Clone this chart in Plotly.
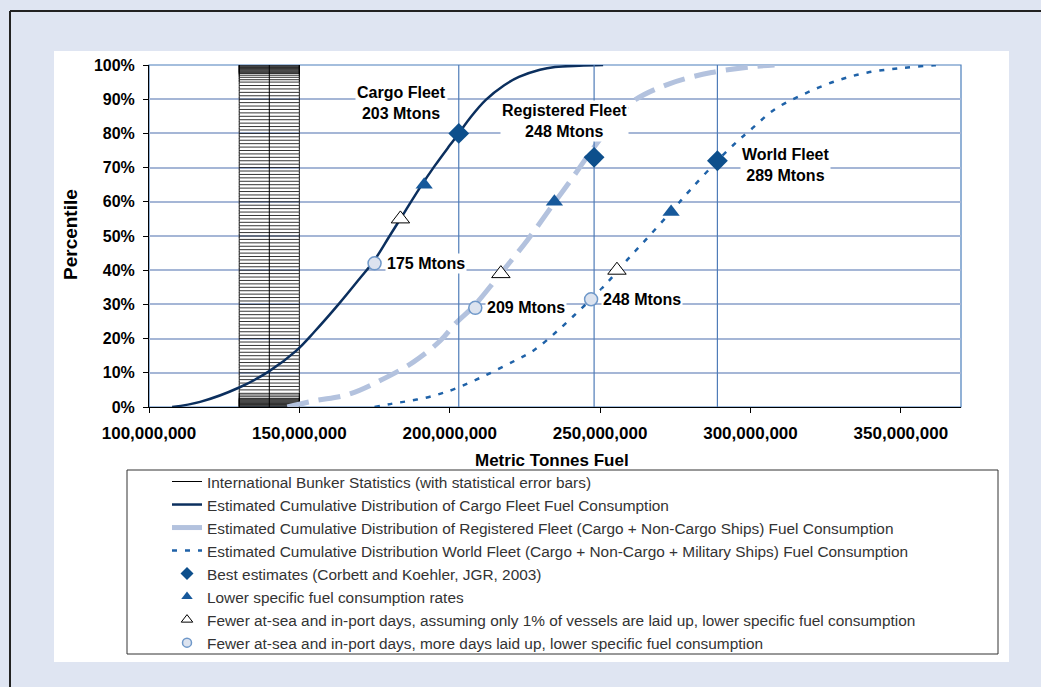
import plotly.graph_objects as go

# fuel totals in million tonnes, percentiles in %
CARGO_MT = [107.7, 117, 130, 140, 149, 155, 163, 170, 175, 180, 185, 190, 195, 200, 203, 207, 212, 218, 223, 230, 235, 243, 251]
CARGO_PCT = [0, 1.5, 5.7, 10.5, 16.5, 22, 30, 37.5, 43, 50, 57, 64, 70.5, 76.5, 80, 84.8, 89.8, 94, 96.5, 98.6, 99.4, 99.8, 100]

REG_MT = [146, 155, 166, 177, 188, 197, 202, 208, 216, 226, 235, 240, 248, 257, 262, 273, 287, 302, 308]
REG_PCT = [0, 1.8, 3.6, 7.8, 13.2, 19.5, 24.5, 29.5, 38, 49, 60, 66, 76, 86, 90, 94.5, 97.8, 99.6, 100]

WORLD_MT = [175, 181, 186, 192, 197, 202, 212, 222, 228, 236, 244, 247, 252, 259, 266, 274, 280, 289, 296, 300, 308, 318, 329, 339, 350, 361, 364]
WORLD_PCT = [0, 1, 1.7, 2.7, 3.9, 5.4, 9.3, 13.7, 16.6, 22.4, 29, 31.5, 36, 43, 49.7, 57.5, 63.5, 72, 78, 81, 87, 91.6, 95.5, 97.8, 99.1, 99.9, 100]

BEST_MT = [203, 248, 289]
BEST_PCT = [80, 73, 72]
LOWER_SFC_MT = [191.5, 234.8, 273.6]
LOWER_SFC_PCT = [65, 60, 57]
FEWER_1PCT_MT = [183.6, 217, 255.6]
FEWER_1PCT_PCT = [55, 39, 40]
LAIDUP_MT = [175, 208.5, 247]
LAIDUP_PCT = [42, 29, 31.5]
LAIDUP_LABELS = ['175 Mtons', '209 Mtons', '248 Mtons']
FLEET_LABELS = ['Cargo Fleet<br>203 Mtons', 'Registered Fleet<br>248 Mtons', 'World Fleet<br>289 Mtons']

# bunker statistics: 140 Mt +/- 10 Mt, one error bar per percentile level
BUNKER_MT = 140
BUNKER_ERR_MT = 10
BUNKER_PCT = [
    0, 0.25, 0.5, 0.75, 1, 1.25, 1.5, 1.75, 2, 2.25, 2.5, 3, 3.5, 4, 5, 6,
    7, 8, 9, 10, 11, 12, 13, 14, 15, 16, 17, 18, 19, 20, 21, 22, 23, 24, 25, 26, 27, 28, 29, 30,
    31, 32, 33, 34, 35, 36, 37, 38, 39, 40, 41, 42, 43, 44, 45, 46, 47, 48, 49, 50, 51, 52, 53,
    54, 55, 56, 57, 58, 59, 60, 61, 62, 63, 64, 65, 66, 67, 68, 69, 70, 71, 72, 73, 74, 75, 76,
    77, 78, 79, 80, 81, 82, 83, 84, 85, 86, 87, 88, 89, 90, 91, 92, 93, 94, 95, 95.7, 96.4,
    97, 97.5, 97.75, 98, 98.25, 98.5, 98.75, 99, 99.25, 99.5, 99.75, 100,
]

NAMES = [
    'International Bunker Statistics (with statistical error bars)',
    'Estimated Cumulative Distribution of Cargo Fleet Fuel Consumption',
    'Estimated Cumulative Distribution of Registered Fleet (Cargo + Non-Cargo Ships) Fuel Consumption',
    'Estimated Cumulative Distribution World Fleet (Cargo + Non-Cargo + Military Ships) Fuel Consumption',
    'Best estimates (Corbett and Koehler, JGR, 2003)',
    'Lower specific fuel consumption rates',
    'Fewer at-sea and in-port days, assuming only 1% of vessels are laid up, lower specific fuel consumption',
    'Fewer at-sea and in-port days, more days laid up, lower specific fuel consumption',
]

W, H = 1041, 687
L, R, T, B = 149, 961, 65, 407  # plot area in pixels


def px(x):
    return (x - L) / (R - L)


def py(y):
    return (B - y) / (B - T)


def t(vals):
    return [v * 1e6 for v in vals]


FONT = 'Arial, Liberation Sans, sans-serif'

# styles: (line, marker) used on the chart; legend swatches get smaller markers
CARGO_LINE = dict(color='#0b2f5e', width=2.5, shape='spline', smoothing=1)
REG_LINE = dict(color='#b3c2de', width=5, dash='22px,10px', shape='spline', smoothing=1)
WORLD_LINE = dict(color='#1f62a8', width=2.5, dash='5px,8px', shape='spline', smoothing=1)
DIAMOND = dict(symbol='diamond', color='#0d4f8c')
TRIANGLE = dict(symbol='triangle-up', color='#17599b')
OPEN_TRI = dict(symbol='triangle-up', color='white', line=dict(color='black', width=1))
CIRCLE = dict(symbol='circle', color='#dce3ef', line=dict(color='#6f98c9', width=1.5))

fig = go.Figure()

fig.add_trace(go.Scatter(
    x=[BUNKER_MT * 1e6] * len(BUNKER_PCT), y=BUNKER_PCT, mode='lines',
    line=dict(color='black', width=1),
    error_x=dict(type='constant', value=BUNKER_ERR_MT * 1e6, color='black', thickness=0.8, width=2),
    hoverinfo='skip'))
fig.add_trace(go.Scatter(x=t(CARGO_MT), y=CARGO_PCT, mode='lines', line=CARGO_LINE))
fig.add_trace(go.Scatter(x=t(REG_MT), y=REG_PCT, mode='lines', line=REG_LINE))
fig.add_trace(go.Scatter(x=t(WORLD_MT), y=WORLD_PCT, mode='lines', line=WORLD_LINE))
fig.add_trace(go.Scatter(
    x=t(BEST_MT), y=BEST_PCT, mode='markers', marker=dict(size=16, **DIAMOND),
    error_y=dict(type='data', array=[100 - p for p in BEST_PCT], arrayminus=BEST_PCT,
                 color='#4f7cb8', thickness=1.2, width=0)))
fig.add_trace(go.Scatter(x=t(LOWER_SFC_MT), y=LOWER_SFC_PCT, mode='markers', marker=dict(size=15, **TRIANGLE)))
fig.add_trace(go.Scatter(x=t(FEWER_1PCT_MT), y=FEWER_1PCT_PCT, mode='markers', marker=dict(size=16, **OPEN_TRI)))
fig.add_trace(go.Scatter(x=t(LAIDUP_MT), y=LAIDUP_PCT, mode='markers', marker=dict(size=13, **CIRCLE)))
fig.update_traces(showlegend=False)

# legend-only swatches
legend_styles = [
    dict(mode='lines', line=dict(color='black', width=1)),
    dict(mode='lines', line=dict(color='#0b2f5e', width=2.5)),
    dict(mode='lines', line=dict(color='#b3c2de', width=5)),
    dict(mode='lines', line=dict(color='#1f62a8', width=2.5, dash='5px,8px')),
    dict(mode='markers', marker=dict(size=10, **DIAMOND)),
    dict(mode='markers', marker=dict(size=10, **TRIANGLE)),
    dict(mode='markers', marker=dict(size=10, **OPEN_TRI)),
    dict(mode='markers', marker=dict(size=9, **CIRCLE)),
]
for i, (name, style) in enumerate(zip(NAMES, legend_styles)):
    fig.add_trace(go.Scatter(x=[None], y=[None], name=name, legendgroup=str(i), showlegend=True, **style))

annotations = []
# fleet labels, offset from the best-estimate diamonds
for (xs, ys), lab, mt, p in zip([(-57, 30), (-30, 36), (68, -4)], FLEET_LABELS, BEST_MT, BEST_PCT):
    annotations.append(dict(x=mt * 1e6, y=p, xref='x', yref='y', text=lab, showarrow=False,
                            xshift=xs, yshift=ys, bgcolor='white', borderpad=1,
                            font=dict(family=FONT, size=16, color='black', weight='bold')))
for lab, mt, p in zip(LAIDUP_LABELS, LAIDUP_MT, LAIDUP_PCT):
    annotations.append(dict(x=mt * 1e6, y=p, xref='x', yref='y', text=lab, showarrow=False,
                            xanchor='left', xshift=10, bgcolor='white', borderpad=1,
                            font=dict(family=FONT, size=16, color='black', weight='bold')))
annotations.append(dict(x=px(70), y=py(235), xref='paper', yref='paper', text='Percentile',
                        textangle=-90, showarrow=False, xanchor='center', yanchor='middle',
                        font=dict(family=FONT, size=19, color='black', weight='bold')))
annotations.append(dict(x=px(552), y=py(460), xref='paper', yref='paper', text='Metric Tonnes Fuel',
                        showarrow=False, xanchor='center', yanchor='middle',
                        font=dict(family=FONT, size=17, color='black', weight='bold')))

shapes = [
    # white chart area on the lavender page
    dict(type='rect', xref='paper', yref='paper', x0=px(54), x1=px(1009), y0=py(662), y1=py(51),
         fillcolor='white', line=dict(width=0), layer='below'),
    # legend frame
    dict(type='rect', xref='paper', yref='paper', x0=px(127), x1=px(998), y0=py(654), y1=py(470),
         fillcolor='white', line=dict(color='#333333', width=1), layer='below'),
    # outer frame (top and left edges)
    dict(type='line', xref='paper', yref='paper', x0=px(10), x1=px(1060), y0=py(11), y1=py(11),
         line=dict(color='#222222', width=2)),
    dict(type='line', xref='paper', yref='paper', x0=px(10), x1=px(10), y0=py(11), y1=py(700),
         line=dict(color='#222222', width=2)),
    # blue plot area border
    dict(type='rect', xref='paper', yref='paper', x0=0, x1=1, y0=0, y1=1,
         line=dict(color='#4a7ebb', width=1.2), layer='between'),
]

fig.update_layout(
    width=W, height=H,
    margin=dict(l=L, r=W - R, t=T, b=H - B),
    paper_bgcolor='#dfe5f2', plot_bgcolor='white',
    font=dict(family=FONT, color='black'),
    showlegend=True,
    legend=dict(x=px(167), y=py(465), xanchor='left', yanchor='top', bgcolor='rgba(0,0,0,0)',
                font=dict(family=FONT, size=15.4, color='#333333'), itemsizing='trace',
                traceorder='grouped', tracegroupgap=0),
    annotations=annotations, shapes=shapes,
    hovermode='closest',
)
fig.update_xaxes(range=[100e6, 370e6], tickvals=t([100, 150, 200, 250, 300, 350]), tickformat=',d',
                 showgrid=False, zeroline=False, showline=True, linecolor='black', linewidth=1,
                 ticks='outside', ticklen=5, tickcolor='black', ticklabelstandoff=6,
                 tickfont=dict(family=FONT, size=17, color='black', weight='bold'))
fig.update_yaxes(range=[0, 100], dtick=10, ticksuffix='%', showgrid=True, gridcolor='#a5b6d6', gridwidth=1.5,
                 zeroline=False, showline=True, linecolor='black', linewidth=1,
                 ticks='outside', ticklen=5, tickcolor='black', ticklabelstandoff=5,
                 tickfont=dict(family=FONT, size=16, color='black', weight='bold'))

# drop the default page margin so the figure sits at the window origin
fig.write_html('out.html', config={'displayModeBar': False},
               post_script="document.body.style.margin='0';")
